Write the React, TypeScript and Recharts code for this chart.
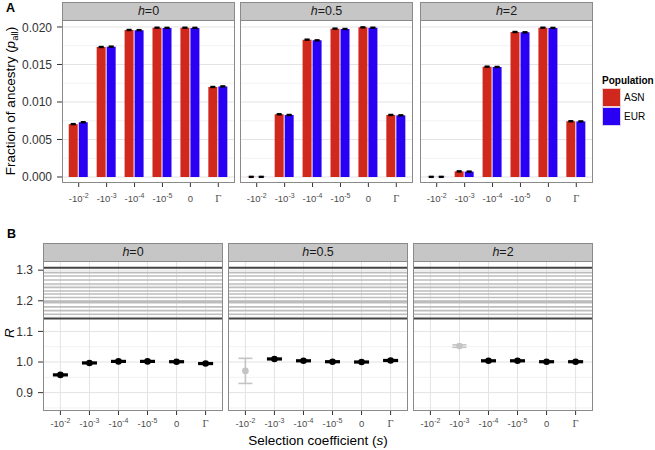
import React from 'react';
import { BarChart, Bar, LineChart, Line, XAxis, YAxis, ErrorBar, ReferenceLine } from 'recharts';

const FONT = 'Arial, "Liberation Sans", Helvetica, sans-serif';
const ASN = '#d0281c';
const EUR = '#2a00f5';

const categories = ['-10^-2', '-10^-3', '-10^-4', '-10^-5', '0', 'Γ'];
const facetLabels = ['0', '0.5', '2'];

// panel A: fraction of ancestry
const asnH0 = [0.00705, 0.01733, 0.0196, 0.0199, 0.0199, 0.012];
const eurH0 = [0.0073, 0.01738, 0.01958, 0.01988, 0.01988, 0.01208];
const asnH05 = [0.00002, 0.00836, 0.01831, 0.01978, 0.01995, 0.00827];
const eurH05 = [0.00002, 0.00827, 0.01822, 0.01973, 0.0199, 0.00822];
const asnH2 = [0.00002, 0.00075, 0.01471, 0.01933, 0.0199, 0.00743];
const eurH2 = [0.00002, 0.00072, 0.01467, 0.01929, 0.01987, 0.00741];
const ancestryErr = 0.00006;
const ancestryTicks = [0, 0.005, 0.01, 0.015, 0.02];
const ancestryMinor = [0.0025, 0.0075, 0.0125, 0.0175];

// panel B: R
const rH0 = [0.958, 0.997, 1.002, 1.002, 1.001, 0.995];
const rH05 = [null, 1.01, 1.004, 1.001, 1.0, 1.005];
const rH2 = [null, null, 1.004, 1.004, 1.001, 1.001];
const rGreyH0 = [null, null, null, null, null, null];
const rGreyH05 = [0.971, null, null, null, null, null];
const rGreyH2 = [null, 1.052, null, null, null, null];
const rGreyErrH0 = [null, null, null, null, null, null];
const rGreyErrH05 = [0.041, null, null, null, null, null];
const rGreyErrH2 = [null, 0.004, null, null, null, null];
const rErr = 0.002;
const rTicks = [0.9, 1.0, 1.1, 1.2, 1.3];
const rMinor = [0.85, 0.95, 1.05, 1.15, 1.25];
const rStripesDark = [1.308, 1.142];
const rStripesGrey = [1.292, 1.281, 1.268, 1.255, 1.244, 1.232, 1.222, 1.211, 1.199, 1.194, 1.18, 1.168, 1.156];

// layout
const A_TOP = 20;
const A_H = 163;
const A_LEFTS = [62, 240, 420];
const A_W = 173;
const B_TOP = 261;
const B_H = 150;
const B_LEFTS = [43, 228, 413];
const B_W = 180;
const M = { top: 0, right: 0, bottom: 0, left: 0 };

function SelTick(props: any) {
  const { x, y, payload, offset } = props;
  const v: string = payload.value;
  const base = y + offset;
  if (v.startsWith('-10^')) {
    return (
      <text x={x} y={base} textAnchor="middle" fill="#4d4d4d" fontSize={9.5} fontFamily={FONT}>
        <tspan>-10</tspan>
        <tspan dy={-4.5} fontSize={7}>{v.slice(4)}</tspan>
      </text>
    );
  }
  return (
    <text
      x={x}
      y={base}
      textAnchor="middle"
      fill="#4d4d4d"
      fontSize={v === 'Γ' ? 10.5 : 9.5}
      fontFamily={v === 'Γ' ? '"Liberation Serif", "DejaVu Serif", serif' : FONT}
    >
      {v}
    </text>
  );
}

function Strip({ left, top, width, label }: any) {
  return (
    <div
      style={{
        position: 'absolute',
        left,
        top,
        width,
        height: 19,
        boxSizing: 'border-box',
        background: '#c6c6c6',
        border: '1px solid #8a8a8a',
        textAlign: 'center',
        fontFamily: FONT,
        fontSize: 12.5,
        lineHeight: '17px',
        color: '#1a1a1a',
      }}
    >
      <i>h</i>={label}
    </div>
  );
}

function Border({ left, top, width, height }: any) {
  return (
    <div
      style={{
        position: 'absolute',
        left,
        top,
        width,
        height,
        boxSizing: 'border-box',
        border: '1px solid #8a8a8a',
        pointerEvents: 'none',
      }}
    />
  );
}

function AncestryFacet({ idx, asn, eur }: any) {
  const showY = idx === 0;
  const yw = showY ? 62 : 0;
  const data = categories.map((c, i) => ({ cat: c, asn: asn[i], eur: eur[i], err: ancestryErr }));
  const yProps = {
    width: 62,
    hide: !showY,
    domain: [-0.0008, 0.02093],
    ticks: ancestryTicks,
    allowDataOverflow: true,
    axisLine: false,
  };
  const pos: any = { position: 'absolute', left: A_LEFTS[idx] - yw, top: A_TOP };
  return (
    <>
      {/* grid layer, kept under the bars */}
      <div style={pos}>
        <BarChart width={A_W + yw} height={A_H + 30} data={data} margin={M}>
          <XAxis dataKey="cat" height={30} axisLine={false} tick={false} tickLine={false} padding={{ left: 2.75, right: 2.75 }} />
          <YAxis {...(yProps as any)} tick={false} tickLine={false} />
          {ancestryMinor.map((v) => (
            <ReferenceLine key={'m' + v} y={v} stroke="#f2f2f2" strokeWidth={1} />
          ))}
          {ancestryTicks.map((v) => (
            <ReferenceLine key={'M' + v} y={v} stroke="#e3e3e3" strokeWidth={1} />
          ))}
        </BarChart>
      </div>
      <div style={pos}>
        <BarChart width={A_W + yw} height={A_H + 30} data={data} margin={M} barSize={9} barGap={1}>
          <XAxis
            dataKey="cat"
            height={30}
            axisLine={false}
            tickSize={4}
            tickLine={{ stroke: '#333' }}
            tick={<SelTick offset={13} />}
            interval={0}
            padding={{ left: 2.75, right: 2.75 }}
          />
          <YAxis
            {...(yProps as any)}
            tickSize={5}
            tickMargin={5}
            tickLine={{ stroke: '#333' }}
            tickFormatter={(v: number) => v.toFixed(3)}
            tick={{ fontSize: 12, fill: '#333', fontFamily: FONT }}
          />
          <Bar dataKey="asn" fill={ASN} isAnimationActive={false}>
            <ErrorBar dataKey="err" width={2.5} stroke="#000" strokeWidth={1.5} />
          </Bar>
          <Bar dataKey="eur" fill={EUR} isAnimationActive={false}>
            <ErrorBar dataKey="err" width={2.5} stroke="#000" strokeWidth={1.5} />
          </Bar>
        </BarChart>
      </div>
    </>
  );
}

const blackDot = (p: any) =>
  p.value == null || p.cy == null ? (
    <g key={p.index} />
  ) : (
    <circle key={p.index} cx={p.cx} cy={p.cy} r={3.3} fill="#000" />
  );
const greyDot = (p: any) =>
  p.value == null || p.cy == null ? (
    <g key={p.index} />
  ) : (
    <circle key={p.index} cx={p.cx} cy={p.cy} r={3.3} fill="#c4c4c4" />
  );

function RatioFacet({ idx, r, grey, greyErr }: any) {
  const showY = idx === 0;
  const yw = showY ? 43 : 0;
  const data = categories.map((c, i) => ({
    cat: c,
    r: r[i],
    rErr: r[i] == null ? null : rErr,
    g: grey[i],
    gErr: greyErr[i],
  }));
  const yProps = {
    width: 43,
    hide: !showY,
    domain: [0.84, 1.33],
    ticks: rTicks,
    allowDataOverflow: true,
    axisLine: false,
  };
  const pos: any = { position: 'absolute', left: B_LEFTS[idx] - yw, top: B_TOP };
  return (
    <>
      <div style={pos}>
        <LineChart width={B_W + yw} height={B_H + 30} data={data} margin={M}>
          <XAxis dataKey="cat" height={30} axisLine={false} tick={false} tickLine={false} padding={{ left: 17.4, right: 17.4 }} />
          <YAxis {...(yProps as any)} tick={false} tickLine={false} />
          {rMinor.map((v) => (
            <ReferenceLine key={'m' + v} y={v} stroke="#f2f2f2" strokeWidth={1} />
          ))}
          {rTicks.map((v) => (
            <ReferenceLine key={'M' + v} y={v} stroke="#e3e3e3" strokeWidth={1} />
          ))}
          {categories.map((c) => (
            <ReferenceLine key={'x' + c} x={c} stroke="#e3e3e3" strokeWidth={1} />
          ))}
          {rStripesGrey.map((v) => (
            <ReferenceLine key={'g' + v} y={v} stroke="#bdbdbd" strokeWidth={1.6} />
          ))}
          {rStripesDark.map((v) => (
            <ReferenceLine key={'d' + v} y={v} stroke="#444" strokeWidth={2} />
          ))}
        </LineChart>
      </div>
      <div style={pos}>
        <LineChart width={B_W + yw} height={B_H + 30} data={data} margin={M}>
          <XAxis
            dataKey="cat"
            height={30}
            axisLine={false}
            tickSize={4}
            tickLine={{ stroke: '#333' }}
            tick={<SelTick offset={10} />}
            interval={0}
            padding={{ left: 17.4, right: 17.4 }}
          />
          <YAxis
            {...(yProps as any)}
            tickSize={5}
            tickMargin={5}
            tickLine={{ stroke: '#333' }}
            tickFormatter={(v: number) => v.toFixed(1)}
            tick={{ fontSize: 12, fill: '#333', fontFamily: FONT }}
          />
          <Line dataKey="g" stroke="none" dot={greyDot} activeDot={false} isAnimationActive={false}>
            <ErrorBar dataKey="gErr" width={7} stroke="#c4c4c4" strokeWidth={1.6} direction="y" />
          </Line>
          <Line dataKey="r" stroke="none" dot={blackDot} activeDot={false} isAnimationActive={false}>
            <ErrorBar dataKey="rErr" width={7.5} stroke="#000" strokeWidth={2} direction="y" />
          </Line>
        </LineChart>
      </div>
    </>
  );
}

export default function App() {
  const asnSets = [asnH0, asnH05, asnH2];
  const eurSets = [eurH0, eurH05, eurH2];
  const rSets = [rH0, rH05, rH2];
  const greySets = [rGreyH0, rGreyH05, rGreyH2];
  const greyErrSets = [rGreyErrH0, rGreyErrH05, rGreyErrH2];
  return (
    <div
      style={{
        position: 'absolute',
        left: 0,
        top: 0,
        width: 655,
        height: 450,
        background: '#fff',
        fontFamily: FONT,
        overflow: 'hidden',
      }}
    >
      {facetLabels.map((h, i) => (
        <AncestryFacet key={'a' + h} idx={i} asn={asnSets[i]} eur={eurSets[i]} />
      ))}
      {facetLabels.map((h, i) => (
        <RatioFacet key={'b' + h} idx={i} r={rSets[i]} grey={greySets[i]} greyErr={greyErrSets[i]} />
      ))}
      {facetLabels.map((h, i) => (
        <React.Fragment key={'s' + h}>
          <Strip left={A_LEFTS[i]} top={A_TOP - 18} width={A_W} label={h} />
          <Border left={A_LEFTS[i]} top={A_TOP} width={A_W} height={A_H} />
          <Strip left={B_LEFTS[i]} top={B_TOP - 18} width={B_W} label={h} />
          <Border left={B_LEFTS[i]} top={B_TOP} width={B_W} height={B_H} />
        </React.Fragment>
      ))}

      <div style={{ position: 'absolute', left: 6, top: 1, fontSize: 12.5, fontWeight: 'bold' }}>A</div>
      <div style={{ position: 'absolute', left: 7, top: 227, fontSize: 12.5, fontWeight: 'bold' }}>B</div>

      <svg width={655} height={450} style={{ position: 'absolute', left: 0, top: 0, pointerEvents: 'none' }}>
        <text
          transform="translate(15,101) rotate(-90)"
          textAnchor="middle"
          fontSize={13.5}
          fontFamily={FONT}
          fill="#000"
        >
          Fraction of ancestry (<tspan fontStyle="italic">p</tspan>
          <tspan fontSize={9.5} dy={3}>all</tspan>
          <tspan dy={-3}>)</tspan>
        </text>
        <text
          transform="translate(14,333) rotate(-90)"
          textAnchor="middle"
          fontSize={13.5}
          fontFamily={FONT}
          fontStyle="italic"
          fill="#000"
        >
          R
        </text>
        <text x={318} y={445} textAnchor="middle" fontSize={13.5} fontFamily={FONT} fill="#000">
          Selection coefficient (<tspan fontStyle="italic">s</tspan>)
        </text>
      </svg>

      <div style={{ position: 'absolute', left: 602, top: 75, fontSize: 10, fontWeight: 'bold' }}>Population</div>
      <div
        style={{
          position: 'absolute',
          left: 602,
          top: 88,
          width: 19,
          height: 19,
          boxSizing: 'border-box',
          background: ASN,
          border: '1px solid #f2d0d0',
        }}
      />
      <div
        style={{
          position: 'absolute',
          left: 602,
          top: 107,
          width: 19,
          height: 19,
          boxSizing: 'border-box',
          background: EUR,
          border: '1px solid #d8d0f2',
        }}
      />
      <div style={{ position: 'absolute', left: 624, top: 92, fontSize: 10 }}>ASN</div>
      <div style={{ position: 'absolute', left: 624, top: 111, fontSize: 10 }}>EUR</div>
    </div>
  );
}
